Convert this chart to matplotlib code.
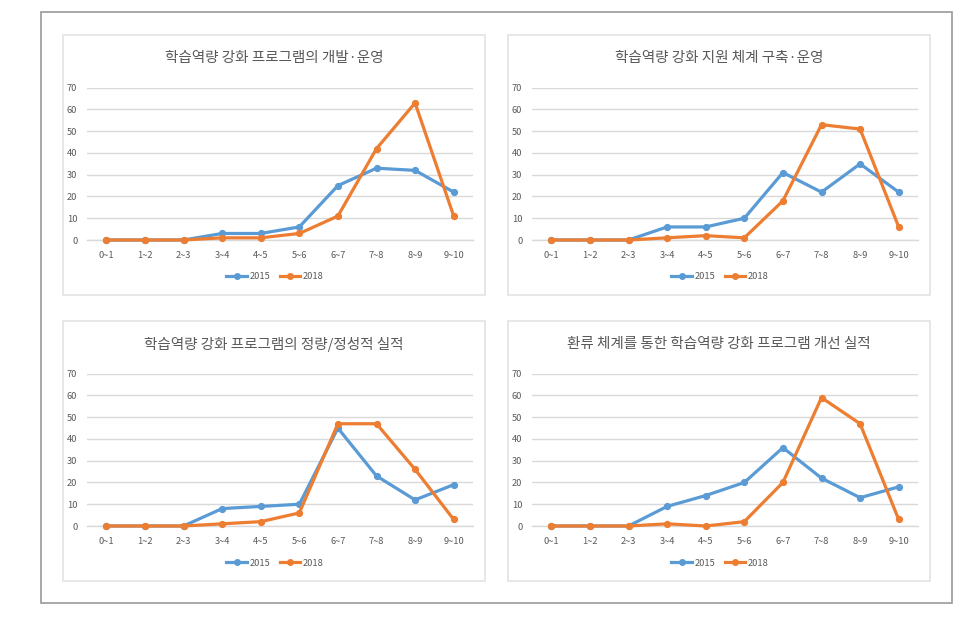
import matplotlib
matplotlib.use("Agg")
import matplotlib.pyplot as plt
from matplotlib.patches import Rectangle
from matplotlib.lines import Line2D

plt.rcParams['font.family'] = ['Noto Sans CJK KR', 'DejaVu Sans']

categories = ["0~1", "1~2", "2~3", "3~4", "4~5", "5~6", "6~7", "7~8", "8~9", "9~10"]
series_names = ["2015", "2018"]

titles = [
    "학습역량 강화 프로그램의 개발·운영",
    "학습역량 강화 지원 체계 구축·운영",
    "학습역량 강화 프로그램의 정량/정성적 실적",
    "환류 체계를 통한 학습역량 강화 프로그램 개선 실적",
]

p1_2015 = [0, 0, 0, 3, 3, 6, 25, 33, 32, 22]
p1_2018 = [0, 0, 0, 1, 1, 3, 11, 42, 63, 11]
p2_2015 = [0, 0, 0, 6, 6, 10, 31, 22, 35, 22]
p2_2018 = [0, 0, 0, 1, 2, 1, 18, 53, 51, 6]
p3_2015 = [0, 0, 0, 8, 9, 10, 45, 23, 12, 19]
p3_2018 = [0, 0, 0, 1, 2, 6, 47, 47, 26, 3]
p4_2015 = [0, 0, 0, 9, 14, 20, 36, 22, 13, 18]
p4_2018 = [0, 0, 0, 1, 0, 2, 20, 59, 47, 3]

yticks = [0, 10, 20, 30, 40, 50, 60, 70]

panels = [(p1_2015, p1_2018), (p2_2015, p2_2018), (p3_2015, p3_2018), (p4_2015, p4_2018)]

W, H = 969, 619
fig = plt.figure(figsize=(W / 100, H / 100), dpi=100)

BLUE = "#5B9BD5"
ORANGE = "#ED7D31"
GRID = "#D9D9D9"
TXT = "#595959"

def fx(x):
    return x / W

def fy(y):
    return 1 - y / H

# outer border
fig.patches.append(Rectangle((fx(41), fy(603)), fx(952 - 41), (603 - 12) / H,
                             transform=fig.transFigure, fill=False,
                             edgecolor="#9A9A9A", linewidth=1.2, zorder=0))

offsets = [(0, 0), (445, 0), (0, 286), (445, 286)]

for i, ((s15, s18), (dx, dy)) in enumerate(zip(panels, offsets)):
    # panel border
    fig.patches.append(Rectangle((fx(63 + dx), fy(295 + dy)), fx(422), 260 / H,
                                 transform=fig.transFigure, fill=False,
                                 edgecolor="#E3E3E3", linewidth=1.2, zorder=0))
    left, right = 87 + dx, 473 + dx
    top, bottom = 87.7 + dy, 240 + dy
    ax = fig.add_axes([fx(left), fy(bottom), fx(right - left), (bottom - top) / H])
    x = list(range(len(categories)))
    ax.plot(x, s15, color=BLUE, lw=2.3, marker="o", ms=4.2, label=series_names[0],
            solid_capstyle="round", zorder=3, clip_on=False)
    ax.plot(x, s18, color=ORANGE, lw=2.3, marker="o", ms=4.2, label=series_names[1],
            solid_capstyle="round", zorder=4, clip_on=False)
    ax.set_xlim(-0.5, len(categories) - 0.5)
    ax.set_ylim(0, 70)
    ax.set_yticks(yticks)
    ax.set_xticks(x)
    ax.set_xticklabels(categories)
    for s in ["top", "right", "left"]:
        ax.spines[s].set_visible(False)
    ax.spines["bottom"].set_color(GRID)
    ax.spines["bottom"].set_linewidth(1.0)
    ax.yaxis.grid(True, color=GRID, linewidth=1.0)
    ax.set_axisbelow(True)
    ax.tick_params(axis="both", length=0, labelsize=6.7, colors=TXT)
    ax.tick_params(axis="y", pad=7)
    ax.tick_params(axis="x", pad=8)
    # title
    fig.text(fx(274 + dx), fy(58 + dy), titles[i], ha="center", va="center",
             fontsize=10.5, color=TXT)
    # legend
    handles = [Line2D([0], [0], color=BLUE, lw=2.3, marker="o", ms=4),
               Line2D([0], [0], color=ORANGE, lw=2.3, marker="o", ms=4)]
    fig.legend(handles, series_names, loc="center",
               bbox_to_anchor=(fx(275 + dx), fy(277 + dy)), ncol=2, frameon=False,
               fontsize=6.7, labelcolor=TXT, handlelength=2.2, handletextpad=0.3,
               columnspacing=1.0, borderpad=0)

fig.savefig("out.png", dpi=100)
